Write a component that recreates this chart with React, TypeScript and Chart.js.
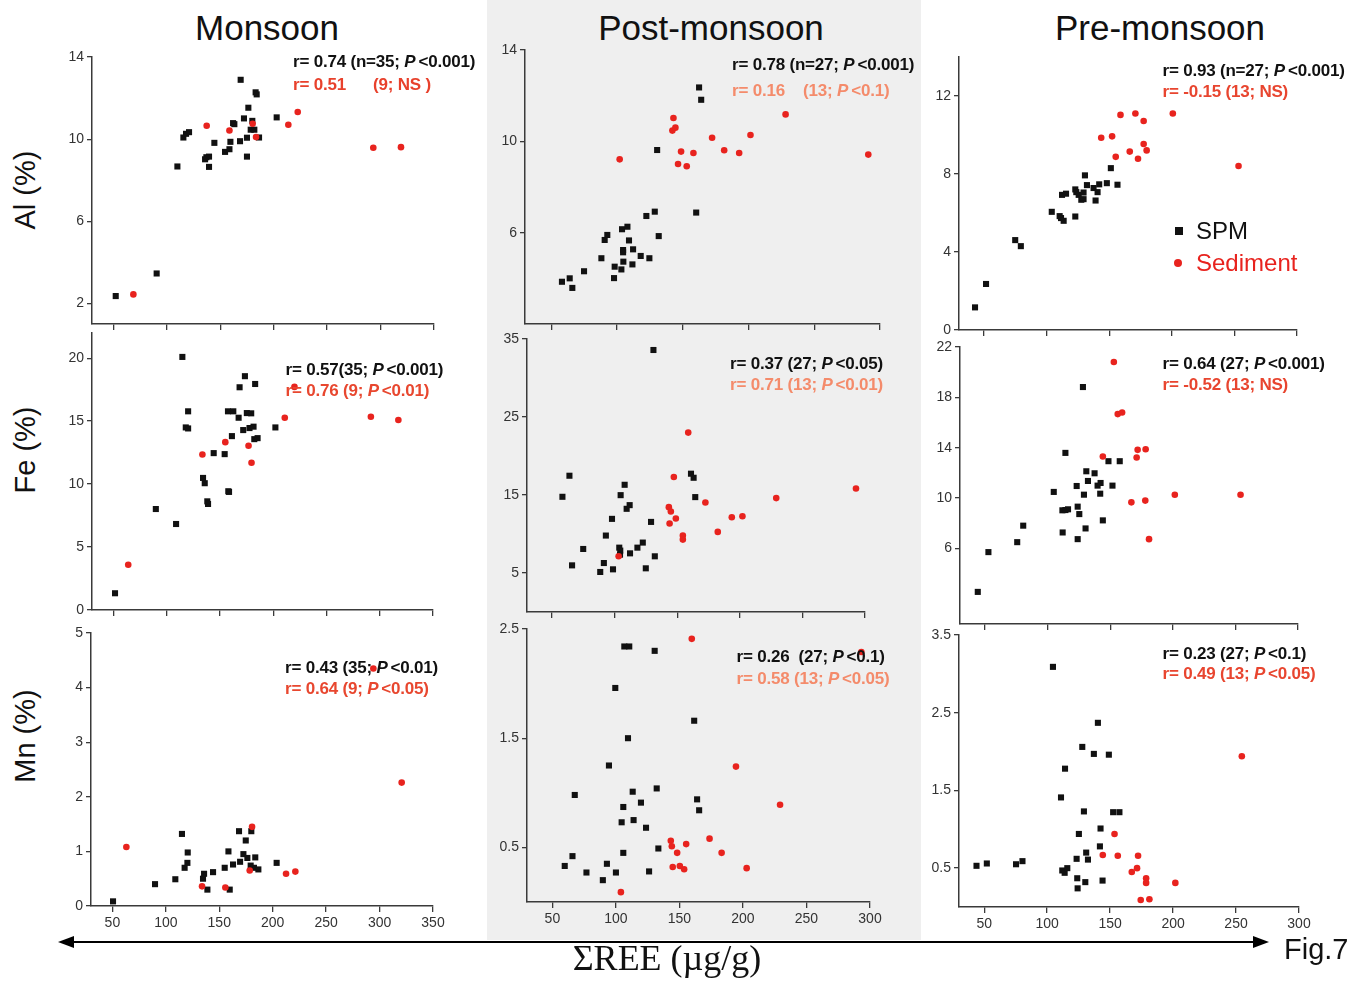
import React, { useEffect, useRef } from 'react';
import { Chart, registerables } from 'chart.js';
Chart.register(...registerables);

// ---------- tick labels ----------
const xTicksMonsoon = [50, 100, 150, 200, 250, 300, 350];
const xTicksPost = [50, 100, 150, 200, 250, 300];
const xTicksPre = [50, 100, 150, 200, 250, 300];
const yTicksMonAl = [2, 6, 10, 14];
const yTicksMonFe = [0, 5, 10, 15, 20];
const yTicksMonMn = [0, 1, 2, 3, 4, 5];
const yTicksPostAl = [6, 10, 14];
const yTicksPostFe = [5, 15, 25, 35];
const yTicksPostMn = [0.5, 1.5, 2.5];
const yTicksPreAl = [0, 4, 8, 12];
const yTicksPreFe = [6, 10, 14, 18, 22];
const yTicksPreMn = [0.5, 1.5, 2.5, 3.5];

// ---------- Monsoon ----------
const monAlSpmX = [52.2, 90.5, 109.9, 115.5, 118.0, 120.8, 135.8, 137.0, 139.5, 139.5, 144.5, 154.5, 158.6, 159.5, 162.0, 163.2, 168.5, 169.1, 172.2, 175.0, 175.0, 176.3, 180.0, 178.5, 181.9, 183.1, 184.1, 186.3, 202.8];
const monAlSpmY = [2.36, 3.46, 8.67, 10.08, 10.26, 10.34, 9.02, 9.12, 9.15, 8.65, 9.82, 9.38, 9.51, 9.87, 10.78, 10.73, 9.9, 12.89, 11.01, 10.07, 9.15, 11.53, 10.89, 10.46, 10.46, 12.28, 12.18, 10.08, 11.06];
const monAlSedX = [68.7, 137.3, 158.6, 180.3, 183.5, 213.7, 222.5, 293.2, 319.1];
const monAlSedY = [2.44, 10.65, 10.42, 10.75, 10.1, 10.7, 11.32, 9.58, 9.61];

const monFeSpmX = [51.6, 89.9, 108.9, 114.8, 120.2, 118.0, 120.2, 134.2, 135.8, 138.2, 138.9, 144.2, 154.5, 157.9, 158.6, 157.6, 162.6, 161.3, 167.6, 168.5, 171.9, 173.5, 175.3, 179.4, 177.8, 181.6, 182.3, 185.4, 183.1, 202.1];
const monFeSpmY = [1.33, 8.02, 6.83, 20.1, 15.78, 14.5, 14.42, 10.49, 10.07, 8.63, 8.42, 12.46, 12.38, 9.43, 9.38, 15.78, 15.78, 13.81, 15.27, 17.69, 14.29, 18.57, 15.64, 15.62, 14.45, 14.56, 13.57, 13.65, 17.95, 14.5];
const monFeSedX = [64.0, 133.6, 155.1, 176.9, 179.7, 210.9, 220.0, 291.7, 317.5];
const monFeSedY = [3.59, 12.35, 13.33, 13.04, 11.69, 15.27, 17.72, 15.35, 15.09];

const monMnSpmX = [50.6, 89.9, 108.9, 115.1, 117.6, 120.2, 120.5, 134.8, 135.8, 138.9, 144.2, 155.1, 158.6, 159.8, 162.9, 168.5, 169.5, 172.6, 174.8, 176.3, 180.0, 179.4, 183.7, 182.5, 186.6, 203.7];
const monMnSpmY = [0.085, 0.4, 0.49, 1.32, 0.7, 0.79, 0.98, 0.5, 0.59, 0.3, 0.62, 0.7, 1.0, 0.3, 0.76, 1.37, 0.81, 0.95, 1.2, 0.88, 1.37, 0.74, 0.89, 0.7, 0.67, 0.79];
const monMnSedX = [63.1, 133.9, 155.7, 178.5, 180.7, 212.5, 221.2, 294.2, 320.7];
const monMnSedY = [1.08, 0.36, 0.34, 0.65, 1.45, 0.59, 0.63, 4.35, 2.26];

// ---------- Post-monsoon ----------
const postAlSpmX = [58.1, 64.0, 66.0, 74.9, 88.1, 90.6, 92.6, 97.7, 98.2, 103.3, 103.8, 104.6, 104.6, 104.8, 107.9, 109.1, 111.7, 112.2, 118.0, 122.3, 124.6, 128.7, 130.5, 131.7, 160.2, 162.4, 164.0];
const postAlSpmY = [3.85, 4.0, 3.58, 4.31, 4.88, 5.68, 5.9, 4.01, 4.51, 4.39, 6.15, 5.24, 5.14, 4.73, 6.26, 5.66, 4.61, 5.27, 4.98, 6.73, 4.88, 6.92, 9.62, 5.85, 6.88, 12.36, 11.82];
const postAlSedX = [102.0, 142.1, 144.4, 142.9, 146.4, 148.7, 153.0, 158.1, 172.3, 181.5, 192.9, 201.5, 228.2, 291.1];
const postAlSedY = [9.21, 10.47, 10.6, 11.02, 9.01, 9.55, 8.91, 9.49, 10.16, 9.61, 9.49, 10.28, 11.18, 9.42];

const postFeSpmX = [58.3, 63.9, 66.0, 74.9, 88.5, 91.4, 93.0, 97.9, 98.7, 103.7, 104.5, 104.3, 104.8, 108.0, 109.6, 112.0, 112.3, 118.2, 122.5, 124.9, 129.1, 132.1, 131.0, 161.0, 163.1, 164.4];
const postFeSpmY = [14.77, 17.47, 5.98, 8.08, 5.13, 6.28, 9.8, 11.94, 5.47, 8.25, 7.87, 7.35, 14.98, 16.31, 13.23, 13.7, 7.52, 8.25, 8.9, 5.6, 11.55, 7.14, 33.59, 17.73, 17.21, 14.73];
const postFeSedX = [103.2, 143.3, 144.9, 143.9, 147.3, 148.9, 154.5, 154.5, 158.8, 172.5, 182.4, 193.6, 202.1, 229.1, 292.8];
const postFeSedY = [7.14, 13.44, 12.88, 11.34, 17.3, 11.98, 9.8, 9.28, 23.0, 14.04, 10.27, 12.15, 12.28, 14.6, 15.84];

const postMnSpmX = [59.7, 65.8, 67.6, 76.8, 89.7, 92.9, 94.5, 99.5, 100.0, 104.5, 105.8, 105.8, 106.6, 110.5, 109.5, 113.2, 113.9, 119.7, 123.7, 126.1, 130.5, 132.1, 133.4, 161.6, 163.9, 165.5];
const postMnSpmY = [0.33, 0.42, 0.98, 0.27, 0.2, 0.35, 1.25, 1.96, 0.27, 0.73, 0.87, 0.45, 2.34, 2.34, 1.5, 1.01, 0.75, 0.91, 0.68, 0.28, 2.3, 1.04, 0.49, 1.66, 0.94, 0.84];
const postMnSedX = [103.9, 143.2, 144.0, 144.7, 148.2, 150.3, 153.7, 155.3, 159.7, 173.7, 183.2, 194.5, 202.9, 229.2, 293.2];
const postMnSedY = [0.09, 0.56, 0.51, 0.32, 0.45, 0.33, 0.3, 0.53, 2.41, 0.58, 0.45, 1.24, 0.31, 0.89, 2.29];

// ---------- Pre-monsoon ----------
const preAlSpmX = [42.8, 51.6, 74.9, 79.4, 104.1, 110.4, 111.5, 113.6, 112.3, 115.5, 122.9, 122.9, 123.7, 125.6, 127.7, 129.5, 129.5, 130.6, 132.2, 137.5, 139.1, 140.7, 142.0, 148.1, 151.3, 156.6];
const preAlSpmY = [1.16, 2.36, 4.61, 4.3, 6.06, 5.84, 5.74, 5.6, 6.93, 6.99, 5.82, 7.21, 7.07, 6.93, 6.68, 6.71, 7.05, 7.93, 7.43, 7.28, 6.64, 7.07, 7.47, 7.53, 8.3, 7.45];
const preAlSedX = [143.6, 152.3, 155.2, 159.0, 166.4, 170.9, 173.0, 177.5, 177.5, 179.9, 200.8, 253.3];
const preAlSedY = [9.86, 9.93, 8.88, 11.03, 9.15, 11.1, 8.78, 10.72, 9.54, 9.21, 11.1, 8.41];

const preFeSpmX = [44.2, 52.7, 75.7, 80.5, 104.9, 111.8, 114.2, 116.3, 112.0, 114.2, 123.2, 124.0, 125.3, 124.0, 129.0, 130.3, 130.9, 132.2, 128.2, 137.5, 139.9, 142.3, 142.0, 144.1, 148.6, 151.8, 157.6];
const preFeSpmY = [2.55, 5.71, 6.5, 7.81, 10.49, 9.03, 9.05, 9.11, 7.27, 13.59, 10.96, 9.32, 8.73, 6.74, 10.27, 7.59, 12.13, 11.36, 18.82, 11.97, 10.99, 11.2, 10.35, 8.23, 12.93, 10.99, 12.93];
const preFeSedX = [144.1, 152.9, 156.0, 159.5, 166.9, 171.1, 171.9, 178.3, 178.0, 181.0, 201.6, 254.1];
const preFeSedY = [13.3, 20.81, 16.67, 16.8, 9.66, 13.22, 13.83, 13.88, 9.8, 6.74, 10.27, 10.27];

const preMnSpmX = [43.9, 52.1, 75.3, 80.4, 104.6, 111.0, 114.2, 112.0, 113.9, 116.0, 123.4, 123.9, 124.2, 125.2, 127.9, 129.2, 130.3, 131.0, 132.4, 137.1, 140.3, 142.4, 141.9, 144.0, 149.0, 152.4, 157.4];
const preMnSpmY = [0.53, 0.56, 0.55, 0.59, 3.09, 1.41, 1.78, 0.47, 0.44, 0.5, 0.62, 0.37, 0.24, 0.94, 2.06, 1.23, 0.32, 0.7, 0.61, 1.97, 2.37, 1.01, 0.78, 0.34, 1.96, 1.22, 1.22];
const preMnSedX = [144.2, 153.5, 156.1, 167.2, 171.4, 172.2, 174.3, 178.6, 178.6, 181.2, 201.8, 254.6];
const preMnSedY = [0.67, 0.94, 0.66, 0.45, 0.5, 0.66, 0.09, 0.37, 0.31, 0.1, 0.31, 1.94];

// ---------- annotation texts ----------
const monAlNotes = ['r= 0.74 (n=35; P<0.001)', 'r= 0.51      (9; NS )'];
const monFeNotes = ['r= 0.57(35; P<0.001)', 'r= 0.76 (9; P<0.01)'];
const monMnNotes = ['r= 0.43 (35; P<0.01)', 'r= 0.64 (9; P<0.05)'];
const postAlNotes = ['r= 0.78 (n=27; P<0.001)', 'r= 0.16    (13; P<0.1)'];
const postFeNotes = ['r= 0.37 (27; P<0.05)', 'r= 0.71 (13; P<0.01)'];
const postMnNotes = ['r= 0.26  (27; P<0.1)', 'r= 0.58 (13; P<0.05)'];
const preAlNotes = ['r= 0.93 (n=27; P<0.001)', 'r= -0.15 (13; NS)'];
const preFeNotes = ['r= 0.64 (27; P<0.001)', 'r= -0.52 (13; NS)'];
const preMnNotes = ['r= 0.23 (27; P<0.1)', 'r= 0.49 (13; P<0.05)'];

const columnTitles = ['Monsoon', 'Post-monsoon', 'Pre-monsoon'];
const rowTitles = ['Al (%)', 'Fe (%)', 'Mn (%)'];
const legendLabels = ['SPM', 'Sediment'];

const RED = '#e8231e';
const BLACK = '#111111';
const AXIS = '#3a3a3a';

type PanelSpec = {
  left: number; right: number; top: number; bottom: number;
  xMin: number; xMax: number; xTicks: number[]; showX: boolean;
  yMin: number; yMax: number; yTicks: number[];
  spmX: number[]; spmY: number[]; sedX: number[]; sedY: number[];
};

const YW = 50, PT = 12, PR = 18, XH = 30;

function Panel({ spec }: { spec: PanelSpec }) {
  const ref = useRef<HTMLCanvasElement>(null);
  const cl = Math.round(spec.left) - YW;
  const ct = Math.round(spec.top) - PT;
  const w = Math.round(spec.right - spec.left) + YW + PR;
  const h = Math.round(spec.bottom - spec.top) + PT + XH;
  useEffect(() => {
    const tickFont = { family: "'Liberation Sans', Arial, sans-serif", size: 14 };
    const chart = new Chart(ref.current as HTMLCanvasElement, {
      type: 'scatter',
      data: {
        datasets: [
          {
            label: 'Sediment',
            data: spec.sedX.map((x, i) => ({ x, y: spec.sedY[i] })),
            pointStyle: 'circle', pointRadius: 3.3, pointHoverRadius: 3.3,
            backgroundColor: RED, borderWidth: 0, order: 0,
          },
          {
            label: 'SPM',
            data: spec.spmX.map((x, i) => ({ x, y: spec.spmY[i] })),
            pointStyle: 'rect', pointRadius: 4.3, pointHoverRadius: 4.3,
            backgroundColor: BLACK, borderWidth: 0, order: 1,
          },
        ],
      },
      options: {
        responsive: false,
        animation: false,
        devicePixelRatio: 1,
        layout: { padding: { top: PT, right: PR, left: 0, bottom: 0 } },
        plugins: { legend: { display: false }, tooltip: { enabled: false } },
        datasets: { scatter: { clip: false } } as any,
        scales: {
          x: {
            type: 'linear', min: spec.xMin, max: spec.xMax, bounds: 'data',
            afterBuildTicks: (s: any) => { s.ticks = spec.xTicks.map((v) => ({ value: v })); },
            afterFit: (s: any) => { s.height = XH; },
            ticks: { display: spec.showX, color: '#333', font: tickFont, padding: 3, maxRotation: 0 },
            grid: { display: true, drawOnChartArea: false, drawTicks: true, tickLength: 6, color: AXIS, lineWidth: 1.3 },
            border: { display: true, color: AXIS, width: 1.5 },
          },
          y: {
            type: 'linear', min: spec.yMin, max: spec.yMax, bounds: 'data',
            afterBuildTicks: (s: any) => { s.ticks = spec.yTicks.map((v) => ({ value: v })); },
            afterFit: (s: any) => { s.width = YW; },
            ticks: { color: '#333', font: tickFont, padding: 3 },
            grid: { display: true, drawOnChartArea: false, drawTicks: true, tickLength: 5, color: AXIS, lineWidth: 1.3 },
            border: { display: true, color: AXIS, width: 1.5 },
          },
        },
      },
    } as any);
    return () => chart.destroy();
  }, []);
  return (
    <canvas
      ref={ref}
      width={w}
      height={h}
      style={{ position: 'absolute', left: cl, top: ct, width: w, height: h }}
    />
  );
}

function NoteLine({ text, x, y, color }: { text: string; x: number; y: number; color: string }) {
  const parts = text.split(/P(?=<)/);
  const nodes: React.ReactNode[] = [];
  parts.forEach((p, i) => {
    nodes.push(<span key={'t' + i}>{p}</span>);
    if (i < parts.length - 1) nodes.push(<i key={'p' + i} style={{ marginRight: 3 }}>P</i>);
  });
  return (
    <div
      style={{
        position: 'absolute', left: x, top: y - 10, height: 20, lineHeight: '20px',
        whiteSpace: 'pre', fontFamily: "'Liberation Sans', Arial, sans-serif",
        fontWeight: 'bold', fontSize: 17, color, letterSpacing: -0.2,
      }}
    >
      {nodes}
    </div>
  );
}

const panels: { spec: PanelSpec; notes: string[]; nx: number; ny1: number; ny2: number; red: string }[] = [
  { spec: { left: 91.5, right: 433, top: 57.3, bottom: 324, xMin: 30, xMax: 350, xTicks: xTicksMonsoon, showX: false, yMin: 1, yMax: 14, yTicks: yTicksMonAl, spmX: monAlSpmX, spmY: monAlSpmY, sedX: monAlSedX, sedY: monAlSedY }, notes: monAlNotes, nx: 293, ny1: 62, ny2: 85, red: '#e8412c' },
  { spec: { left: 92, right: 433, top: 333.3, bottom: 610, xMin: 30, xMax: 350, xTicks: xTicksMonsoon, showX: false, yMin: 0, yMax: 22, yTicks: yTicksMonFe, spmX: monFeSpmX, spmY: monFeSpmY, sedX: monFeSedX, sedY: monFeSedY }, notes: monFeNotes, nx: 285.5, ny1: 370, ny2: 391, red: '#e8472f' },
  { spec: { left: 91, right: 433, top: 632.7, bottom: 905.7, xMin: 30, xMax: 350, xTicks: xTicksMonsoon, showX: true, yMin: 0, yMax: 5, yTicks: yTicksMonMn, spmX: monMnSpmX, spmY: monMnSpmY, sedX: monMnSedX, sedY: monMnSedY }, notes: monMnNotes, nx: 285, ny1: 668, ny2: 689, red: '#e8472f' },
  { spec: { left: 525, right: 880, top: 50, bottom: 324, xMin: 30, xMax: 300, xTicks: xTicksPost, showX: false, yMin: 2, yMax: 14, yTicks: yTicksPostAl, spmX: postAlSpmX, spmY: postAlSpmY, sedX: postAlSedX, sedY: postAlSedY }, notes: postAlNotes, nx: 732, ny1: 65, ny2: 90.5, red: '#f48b6b' },
  { spec: { left: 527, right: 865, top: 339, bottom: 611.7, xMin: 30, xMax: 300, xTicks: xTicksPost, showX: false, yMin: 0, yMax: 35, yTicks: yTicksPostFe, spmX: postFeSpmX, spmY: postFeSpmY, sedX: postFeSedX, sedY: postFeSedY }, notes: postFeNotes, nx: 730, ny1: 363.5, ny2: 385, red: '#f48b6b' },
  { spec: { left: 527, right: 870, top: 629.3, bottom: 902.7, xMin: 30, xMax: 300, xTicks: xTicksPost, showX: true, yMin: 0, yMax: 2.5, yTicks: yTicksPostMn, spmX: postMnSpmX, spmY: postMnSpmY, sedX: postMnSedX, sedY: postMnSedY }, notes: postMnNotes, nx: 736.5, ny1: 656.5, ny2: 678.5, red: '#f48b6b' },
  { spec: { left: 959.3, right: 1297, top: 56.7, bottom: 329.5, xMin: 30, xMax: 300, xTicks: xTicksPre, showX: false, yMin: 0, yMax: 14, yTicks: yTicksPreAl, spmX: preAlSpmX, spmY: preAlSpmY, sedX: preAlSedX, sedY: preAlSedY }, notes: preAlNotes, nx: 1162.5, ny1: 70.5, ny2: 92, red: '#e8452f' },
  { spec: { left: 960, right: 1298, top: 347.3, bottom: 624, xMin: 30, xMax: 300, xTicks: xTicksPre, showX: false, yMin: 0, yMax: 22, yTicks: yTicksPreFe, spmX: preFeSpmX, spmY: preFeSpmY, sedX: preFeSedX, sedY: preFeSedY }, notes: preFeNotes, nx: 1162.5, ny1: 363.5, ny2: 384.5, red: '#e8452f' },
  { spec: { left: 959.3, right: 1299, top: 635, bottom: 907.3, xMin: 30, xMax: 300, xTicks: xTicksPre, showX: true, yMin: 0, yMax: 3.5, yTicks: yTicksPreMn, spmX: preMnSpmX, spmY: preMnSpmY, sedX: preMnSedX, sedY: preMnSedY }, notes: preMnNotes, nx: 1162.5, ny1: 654, ny2: 674, red: '#e8452f' },
];

const sans = "'Liberation Sans', Arial, sans-serif";

export default function App() {
  const titleX = [267, 711, 1160];
  const rowY = [190, 450, 736];
  return (
    <div style={{ position: 'absolute', left: 0, top: 0, width: 1367, height: 981, background: '#fff', overflow: 'hidden' }}>
      <div style={{ position: 'absolute', left: 487, top: 0, width: 434, height: 940, background: '#efefef' }} />
      {columnTitles.map((t, i) => (
        <div key={t} style={{ position: 'absolute', left: titleX[i], top: 28, transform: 'translate(-50%, -50%)', fontFamily: sans, fontSize: 35, color: '#111', whiteSpace: 'nowrap' }}>{t}</div>
      ))}
      {rowTitles.map((t, i) => (
        <div key={t} style={{ position: 'absolute', left: 25, top: rowY[i], transform: 'translate(-50%, -50%) rotate(-90deg)', fontFamily: sans, fontSize: 29, color: '#111', whiteSpace: 'nowrap' }}>{t}</div>
      ))}
      {panels.map((p, i) => (
        <Panel key={i} spec={p.spec} />
      ))}
      {panels.map((p, i) => (
        <React.Fragment key={'n' + i}>
          <NoteLine text={p.notes[0]} x={p.nx} y={p.ny1} color="#111" />
          <NoteLine text={p.notes[1]} x={p.nx} y={p.ny2} color={p.red} />
        </React.Fragment>
      ))}
      {/* legend */}
      <div style={{ position: 'absolute', left: 1175, top: 227, width: 8, height: 8, background: BLACK }} />
      <div style={{ position: 'absolute', left: 1196, top: 231, transform: 'translateY(-50%)', fontFamily: sans, fontSize: 24, color: '#111' }}>{legendLabels[0]}</div>
      <div style={{ position: 'absolute', left: 1174, top: 259, width: 8, height: 8, borderRadius: 4, background: RED }} />
      <div style={{ position: 'absolute', left: 1196, top: 263, transform: 'translateY(-50%)', fontFamily: sans, fontSize: 24, color: RED }}>{legendLabels[1]}</div>
      {/* bottom arrow */}
      <svg style={{ position: 'absolute', left: 0, top: 930 }} width={1367} height={24}>
        <line x1={70} y1={12} x2={1256} y2={12} stroke="#000" strokeWidth={2} />
        <polygon points="58,12 74,6 74,18" fill="#000" />
        <polygon points="1269,12 1253,6 1253,18" fill="#000" />
      </svg>
      <div style={{ position: 'absolute', left: 667, top: 958, transform: 'translate(-50%, -50%)', fontFamily: "'Liberation Serif', 'Times New Roman', serif", fontSize: 36, color: '#111', whiteSpace: 'nowrap' }}>ΣREE (µg/g)</div>
      <div style={{ position: 'absolute', left: 1284, top: 949, transform: 'translateY(-50%)', fontFamily: sans, fontSize: 29, color: '#111', whiteSpace: 'nowrap' }}>Fig.7</div>
    </div>
  );
}
